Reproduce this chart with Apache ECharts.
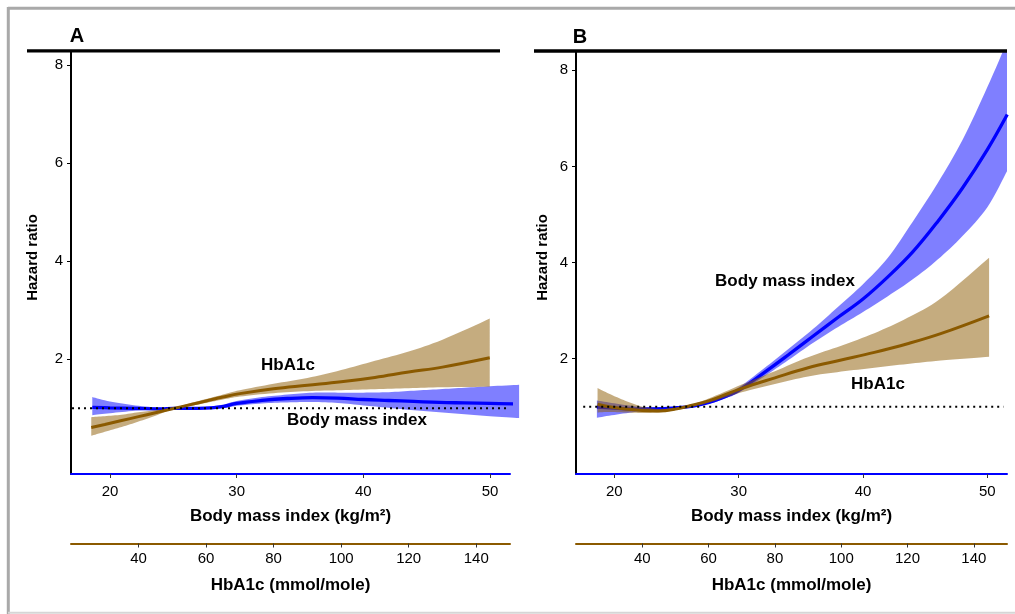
<!DOCTYPE html>
<html><head><meta charset="utf-8">
<script src="https://cdn.jsdelivr.net/npm/echarts@6/dist/echarts.min.js"></script>
<style>html,body{margin:0;padding:0;background:#fff}#c{width:1015px;height:614px}</style>
</head><body><div id="c"></div>
<script>
// ---------- tick labels ----------
const bmiTicks = [20, 30, 40, 50];
const hba1cTicks = [40, 60, 80, 100, 120, 140];
const hrTicks = [2, 4, 6, 8];

// ---------- Panel A: Body mass index (x = BMI) ----------
const bmiA = [18.6, 20, 22, 24, 25, 26, 27, 28, 29, 30, 32, 34, 36, 38, 40, 42, 44, 46, 48, 50, 52.3];
const bmiA_hr = [1.02, 1.01, 1.00, 0.99, 1.00, 1.00, 1.00, 1.01, 1.04, 1.10, 1.16, 1.20, 1.22, 1.21, 1.18, 1.16, 1.14, 1.12, 1.11, 1.10, 1.09];
const bmiA_lo = [0.86, 0.90, 0.95, 0.98, 0.995, 0.99, 0.99, 0.99, 1.01, 1.05, 1.10, 1.12, 1.13, 1.11, 1.06, 1.01, 0.96, 0.92, 0.88, 0.84, 0.80];
const bmiA_hi = [1.23, 1.14, 1.06, 1.01, 1.005, 1.01, 1.02, 1.04, 1.08, 1.15, 1.23, 1.28, 1.32, 1.32, 1.32, 1.33, 1.36, 1.39, 1.42, 1.45, 1.48];

// ---------- Panel A: HbA1c (x = HbA1c) ----------
const hbA = [26, 30, 35, 40, 45, 50, 55, 60, 65, 70, 80, 90, 100, 110, 120, 130, 144];
const hbA_hr = [0.61, 0.67, 0.75, 0.83, 0.91, 0.99, 1.07, 1.15, 1.23, 1.30, 1.40, 1.47, 1.54, 1.63, 1.74, 1.84, 2.03];
const hbA_lo = [0.44, 0.52, 0.62, 0.73, 0.85, 0.98, 1.04, 1.11, 1.18, 1.24, 1.31, 1.35, 1.37, 1.39, 1.41, 1.43, 1.44];
const hbA_hi = [0.82, 0.84, 0.87, 0.92, 0.96, 1.00, 1.10, 1.19, 1.28, 1.37, 1.50, 1.62, 1.78, 1.97, 2.16, 2.40, 2.83];

// ---------- Panel B: Body mass index ----------
const bmiB = [18.6, 20, 22, 24, 25, 26, 27, 28, 29, 30, 32, 34, 36, 38, 40, 42, 44, 46, 48, 50, 51.6];
const bmiB_hr = [0.99, 0.97, 0.95, 0.96, 0.98, 1.00, 1.05, 1.12, 1.22, 1.34, 1.70, 2.08, 2.47, 2.86, 3.24, 3.70, 4.22, 4.85, 5.55, 6.35, 7.08];
const bmiB_lo = [0.77, 0.83, 0.90, 0.94, 0.97, 1.00, 1.03, 1.09, 1.18, 1.29, 1.62, 1.97, 2.33, 2.66, 2.97, 3.30, 3.65, 4.06, 4.55, 5.15, 5.91];
const bmiB_hi = [1.13, 1.07, 1.00, 0.98, 0.99, 1.00, 1.07, 1.16, 1.27, 1.40, 1.79, 2.20, 2.62, 3.08, 3.55, 4.10, 4.85, 5.65, 6.55, 7.65, 8.60];

// ---------- Panel B: HbA1c ----------
const hbB = [26.5, 30, 35, 40, 45, 50, 55, 60, 70, 80, 90, 100, 110, 120, 130, 144.6];
const hbB_hr = [1.05, 1.00, 0.95, 0.92, 0.91, 0.95, 1.03, 1.12, 1.38, 1.60, 1.81, 1.97, 2.13, 2.31, 2.52, 2.89];
const hbB_lo = [0.88, 0.89, 0.88, 0.87, 0.88, 0.93, 1.01, 1.08, 1.30, 1.47, 1.63, 1.73, 1.81, 1.89, 1.96, 2.04];
const hbB_hi = [1.39, 1.27, 1.12, 1.00, 0.95, 0.97, 1.05, 1.17, 1.46, 1.74, 2.03, 2.27, 2.53, 2.85, 3.25, 4.10];

// reference line HR = 1
const refA = [[17.0, 1], [51.4, 1]];
const refB = [[17.5, 1], [51.3, 1]];

// ---------- styling ----------
const FF = '"Liberation Sans", Arial, Helvetica, sans-serif';
const BLUE = '#0000ff', BLUE_BAND = 'rgba(0,0,255,0.5)';
const BROWN = '#8b5a00', BROWN_BAND = 'rgba(139,90,0,0.5)';

function catmull(p, n) {
  n = n || 8;
  const out = [];
  for (let i = 0; i < p.length - 1; i++) {
    const p0 = p[Math.max(i - 1, 0)], p1 = p[i], p2 = p[i + 1], p3 = p[Math.min(i + 2, p.length - 1)];
    for (let s = 0; s < n; s++) {
      const t = s / n, t2 = t * t, t3 = t2 * t;
      const f = k => 0.5 * ((2 * p1[k]) + (-p0[k] + p2[k]) * t + (2 * p0[k] - 5 * p1[k] + 4 * p2[k] - p3[k]) * t2 + (-p0[k] + 3 * p1[k] - 3 * p2[k] + p3[k]) * t3);
      out.push([f(0), f(1)]);
    }
  }
  out.push(p[p.length - 1]);
  return out;
}

function bandSeries(xi, yi, xs, lo, hi, color, clip, z) {
  return {
    type: 'custom', xAxisIndex: xi, yAxisIndex: yi, clip: clip, z: z, silent: true,
    data: xs.map((x, i) => [x, lo[i], hi[i]]),
    encode: { x: 0, y: [1, 2] },
    renderItem: function (params, api) {
      if (params.dataIndex !== 0) return null;
      const up = xs.map((x, i) => api.coord([x, hi[i]]));
      const dn = xs.map((x, i) => api.coord([x, lo[i]]));
      const pts = catmull(up).concat(catmull(dn).reverse());
      return { type: 'polygon', shape: { points: pts }, style: { fill: color } };
    }
  };
}
function lineSeries(xi, yi, xs, ys, color, width, clip, z) {
  return {
    type: 'line', xAxisIndex: xi, yAxisIndex: yi, data: xs.map((x, i) => [x, ys[i]]),
    showSymbol: false, symbol: 'none', smooth: 0.4, clip: clip, z: z, silent: true,
    lineStyle: { color: color, width: width }
  };
}
function refSeries(xi, yi, data) {
  return {
    type: 'line', xAxisIndex: xi, yAxisIndex: yi, data: data, showSymbol: false, symbol: 'none',
    z: 10, silent: true, lineStyle: { color: '#000', width: 2, type: [2, 4] }
  };
}
function yAxis(gi, min, max, gap) {
  return {
    type: 'value', gridIndex: gi, min: min, max: max,
    name: 'Hazard ratio', nameLocation: 'middle', nameGap: gap, nameRotate: 90,
    nameTextStyle: { fontFamily: FF, fontSize: 15, fontWeight: 'bold', color: '#000', padding: [0, 0, 0, 10] },
    axisLine: { show: true, onZero: false, lineStyle: { color: '#000', width: 2 } },
    axisTick: { show: true, length: 4, customValues: hrTicks, lineStyle: { color: '#000', width: 1 } },
    axisLabel: { customValues: hrTicks, margin: 8, fontSize: 15, color: '#000', fontFamily: FF },
    splitLine: { show: false }
  };
}
function bmiAxis(gi) {
  return {
    type: 'value', gridIndex: gi, position: 'bottom', min: 16.92, max: 51.58,
    name: 'Body mass index (kg/m²)', nameLocation: 'middle', nameGap: 34,
    nameTextStyle: { fontFamily: FF, fontSize: 17, fontWeight: 'bold', color: '#000' },
    axisLine: { show: true, onZero: false, lineStyle: { color: BLUE, width: 2 } },
    axisTick: { show: true, length: 4, customValues: bmiTicks, lineStyle: { color: '#333', width: 1 } },
    axisLabel: { customValues: bmiTicks, margin: 10, fontSize: 15, color: '#000', fontFamily: FF },
    splitLine: { show: false }
  };
}
function hbAxis(gi) {
  return {
    type: 'value', gridIndex: gi, position: 'bottom', offset: 69.5, min: 20, max: 150,
    name: 'HbA1c (mmol/mole)', nameLocation: 'middle', nameGap: 33.5,
    nameTextStyle: { fontFamily: FF, fontSize: 17, fontWeight: 'bold', color: '#000' },
    axisLine: { show: true, onZero: false, lineStyle: { color: BROWN, width: 2 } },
    axisTick: { show: true, length: 4, customValues: hba1cTicks, lineStyle: { color: '#333', width: 1 } },
    axisLabel: { customValues: hba1cTicks, margin: 8, fontSize: 15, color: '#000', fontFamily: FF },
    splitLine: { show: false }
  };
}
function txt(x, y, text, size) {
  return { type: 'text', x: x, y: y, silent: true, z: 100,
    style: { text: text, font: 'bold ' + size + 'px ' + FF, fill: '#000', textAlign: 'center', textVerticalAlign: 'middle' } };
}
function hline(x1, x2, y, color, w) {
  return { type: 'line', silent: true, z: 100, shape: { x1: x1, y1: y, x2: x2, y2: y }, style: { stroke: color, lineWidth: w } };
}

const chart = echarts.init(document.getElementById('c'), null, { renderer: 'canvas' });
chart.setOption({
  animation: false,
  backgroundColor: '#fff',
  grid: [
    { left: 71, right: 505, top: 51, bottom: 140 },
    { left: 576, right: 8, top: 51, bottom: 140 }
  ],
  xAxis: [bmiAxis(0), hbAxis(0), bmiAxis(1), hbAxis(1)],
  yAxis: [yAxis(0, -0.34, 8.29, 30.5), yAxis(1, -0.4, 8.4, 25.5)],
  series: [
    bandSeries(0, 0, bmiA, bmiA_lo, bmiA_hi, BLUE_BAND, false, 1),
    lineSeries(0, 0, bmiA, bmiA_hr, BLUE, 3.3, false, 2),
    bandSeries(1, 0, hbA, hbA_lo, hbA_hi, BROWN_BAND, true, 3),
    lineSeries(1, 0, hbA, hbA_hr, BROWN, 3, true, 4),
    refSeries(0, 0, refA),
    bandSeries(2, 1, bmiB, bmiB_lo, bmiB_hi, BLUE_BAND, true, 1),
    lineSeries(2, 1, bmiB, bmiB_hr, BLUE, 3.3, true, 2),
    bandSeries(3, 1, hbB, hbB_lo, hbB_hi, BROWN_BAND, true, 3),
    lineSeries(3, 1, hbB, hbB_hr, BROWN, 3, true, 4),
    refSeries(2, 1, refB)
  ],
  graphic: [
    hline(8, 1015, 8.3, '#a9a9a9', 3),
    { type: 'line', silent: true, z: 100, shape: { x1: 8.3, y1: 7, x2: 8.3, y2: 614 }, style: { stroke: '#a9a9a9', lineWidth: 3 } },
    hline(8, 1015, 612.8, '#d6d6d6', 2),
    hline(27, 500, 50.8, '#000', 3.3),
    hline(534, 1007, 51, '#000', 3.3),
    txt(77, 36, 'A', 20),
    txt(580, 37, 'B', 20),
    txt(288, 365, 'HbA1c', 17),
    txt(357, 420, 'Body mass index', 17),
    txt(785, 281, 'Body mass index', 17),
    txt(878, 384, 'HbA1c', 17)
  ]
});
</script>
</body></html>
